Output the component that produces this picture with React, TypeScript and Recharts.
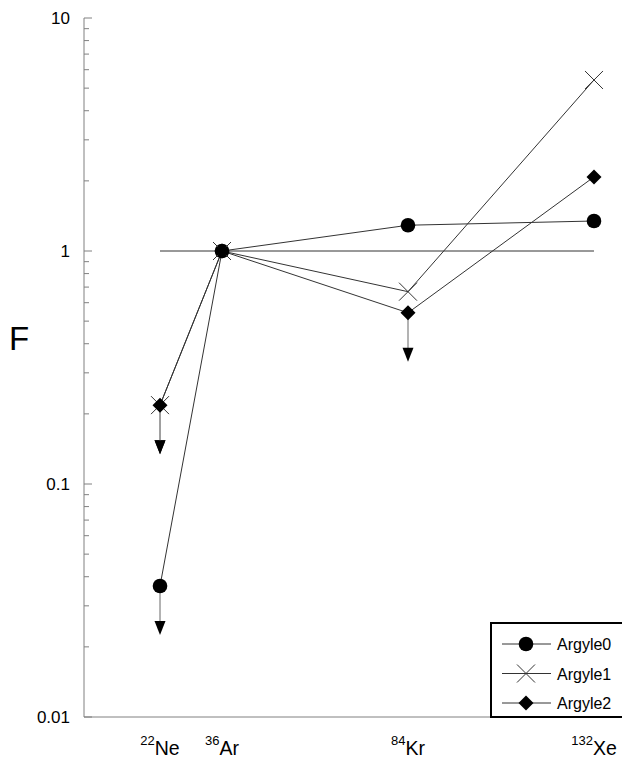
import { Legend, Line, LineChart, ReferenceLine, XAxis, YAxis } from "recharts";

// isotopes along the x axis (positions keep the original uneven spacing)
const massNumbers = ["22", "36", "84", "132"];
const elements = ["Ne", "Ar", "Kr", "Xe"];
const positions = [0, 1, 4, 7];

const argyle0 = [0.0365, 1, 1.29, 1.345];
const argyle1 = [0.218, 1, 0.669, 5.42];
const argyle2 = [0.218, 1, 0.543, 2.08];

// upper limits (drawn with a downward arrow)
const argyle0Limit = [true, false, false, false];
const argyle1Limit = [true, false, false, false];
const argyle2Limit = [true, false, true, false];

const seriesNames = ["Argyle0", "Argyle1", "Argyle2"];

const decadeTicks = [0.01, 0.1, 1, 10];
const decadeLabels = ["0.01", "0.1", "1", "10"];
const minorSteps = [2, 3, 4, 5, 6, 7, 8, 9];

const axisColor = "#808080";
const lineColor = "#333333";
const font = "'Liberation Sans', Arial, sans-serif";

const data = positions.map((x, i) => ({
  x,
  a0: argyle0[i],
  a1: argyle1[i],
  a2: argyle2[i],
  l0: argyle0Limit[i],
  l1: argyle1Limit[i],
  l2: argyle2Limit[i]
}));

const yTicks = [
  ...decadeTicks,
  ...decadeTicks.slice(0, -1).flatMap((d) => minorSteps.map((m) => Number((d * m).toPrecision(3))))
].sort((a, b) => a - b);

type Shape = "circle" | "cross" | "diamond";

function Marker({ cx, cy, shape }: { cx: number; cy: number; shape: Shape }) {
  if (shape === "circle") return <circle cx={cx} cy={cy} r={7.3} fill="#000" />;
  if (shape === "cross")
    return (
      <g stroke={lineColor} strokeWidth={1}>
        <line x1={cx - 9} y1={cy - 9} x2={cx + 9} y2={cy + 9} />
        <line x1={cx - 9} y1={cy + 9} x2={cx + 9} y2={cy - 9} />
      </g>
    );
  return <polygon points={`${cx},${cy - 7.5} ${cx + 7.5},${cy} ${cx},${cy + 7.5} ${cx - 7.5},${cy}`} fill="#000" />;
}

function makeDot(shape: Shape, limitKey: string) {
  return (props: any) => {
    const { cx, cy, payload, index } = props;
    if (cx == null || cy == null) return <g key={`d-${index}`} />;
    const limit = payload && payload[limitKey];
    return (
      <g key={`d-${shape}-${index}`}>
        {limit && (
          <g>
            <line x1={cx} y1={cy} x2={cx} y2={cy + 36} stroke="#9a9a9a" strokeWidth={1.5} />
            <polygon points={`${cx - 5.5},${cy + 35} ${cx + 5.5},${cy + 35} ${cx},${cy + 49}`} fill="#000" />
          </g>
        )}
        <Marker cx={cx} cy={cy} shape={shape} />
      </g>
    );
  };
}

function LeftTick(props: any) {
  const { x, y, payload } = props;
  const i = decadeTicks.indexOf(payload.value);
  const major = i >= 0;
  return (
    <g>
      <line x1={x} x2={x + (major ? 8 : 5)} y1={y} y2={y} stroke={axisColor} />
      {major && (
        <text x={x - 14} y={y} dy={6} textAnchor="end" fontSize={17} fontFamily={font} fill="#000">
          {decadeLabels[i]}
        </text>
      )}
    </g>
  );
}

function RightTick(props: any) {
  const { x, y, payload } = props;
  const major = decadeTicks.indexOf(payload.value) >= 0;
  return <line x1={x - (major ? 8 : 5)} x2={x} y1={y} y2={y} stroke={axisColor} />;
}

function IsotopeTick(props: any) {
  const { x, y, payload } = props;
  const i = positions.indexOf(payload.value);
  return (
    <text x={x} y={y + 38} textAnchor="middle" fontSize={19.5} fontFamily={font} fill="#000">
      <tspan fontSize={13} dy={-10}>
        {massNumbers[i]}
      </tspan>
      <tspan dy={10}>{elements[i]}</tspan>
    </text>
  );
}

function FLabel(props: any) {
  const vb = props.viewBox || { x: 0, y: 0, width: 84, height: 0 };
  return (
    <text x={vb.x + 19} y={vb.y + vb.height / 2 - 18} textAnchor="middle" fontSize={33} fontFamily={font} fill="#000">
      F
    </text>
  );
}

const legendShapes: Shape[] = ["circle", "cross", "diamond"];

function LegendBox() {
  return (
    <div style={{ border: "2px solid #000", background: "#fff", width: 140, height: 92, boxSizing: "content-box" }}>
      <svg width={140} height={92}>
        {seriesNames.map((name, i) => {
          const y = 20 + i * 29.5;
          return (
            <g key={name}>
              <line x1={10} x2={59} y1={y} y2={y} stroke={lineColor} />
              <Marker cx={34} cy={y} shape={legendShapes[i]} />
              <text x={65} y={y + 6} fontSize={16} fontFamily={font} fill="#000">
                {name}
              </text>
            </g>
          );
        })}
      </svg>
    </div>
  );
}

export default function App() {
  return (
    <div style={{ width: 622, height: 760, overflow: "hidden", background: "#fff", position: "relative" }}>
      <style>{`body{margin:0}`}</style>
      <LineChart width={624} height={760} data={data} margin={{ top: 18, right: 0, bottom: 0, left: 0 }}>
        <XAxis
          dataKey="x"
          type="number"
          domain={[-1.226, 7.484]}
          allowDataOverflow
          ticks={positions}
          interval={0}
          height={43}
          axisLine={{ stroke: axisColor }}
          tickLine={false}
          tickSize={0}
          tickMargin={0}
          tick={<IsotopeTick />}
        />
        <XAxis
          xAxisId="top"
          orientation="top"
          dataKey="x"
          type="number"
          domain={[-1.226, 7.484]}
          height={0}
          axisLine={{ stroke: axisColor }}
          tick={false}
          tickLine={false}
        />
        <YAxis
          yAxisId="left"
          scale="log"
          type="number"
          domain={[0.01, 10]}
          allowDataOverflow
          ticks={yTicks}
          interval={0}
          width={84}
          axisLine={{ stroke: axisColor }}
          tickLine={false}
          tickSize={0}
          tickMargin={0}
          tick={<LeftTick />}
          label={<FLabel />}
        />
        <YAxis
          yAxisId="right"
          orientation="right"
          scale="log"
          type="number"
          domain={[0.01, 10]}
          allowDataOverflow
          ticks={yTicks}
          interval={0}
          width={0}
          axisLine={false}
          tickLine={false}
          tickSize={0}
          tickMargin={0}
          tick={<RightTick />}
        />
        <ReferenceLine
          yAxisId="left"
          segment={[
            { x: positions[0], y: 1 },
            { x: positions[positions.length - 1], y: 1 }
          ]}
          stroke={lineColor}
          strokeWidth={1}
        />
        <Line
          yAxisId="left"
          dataKey="a0"
          name={seriesNames[0]}
          stroke={lineColor}
          strokeWidth={1}
          dot={makeDot("circle", "l0")}
          isAnimationActive={false}
        />
        <Line
          yAxisId="left"
          dataKey="a1"
          name={seriesNames[1]}
          stroke={lineColor}
          strokeWidth={1}
          dot={makeDot("cross", "l1")}
          isAnimationActive={false}
        />
        <Line
          yAxisId="left"
          dataKey="a2"
          name={seriesNames[2]}
          stroke={lineColor}
          strokeWidth={1}
          dot={makeDot("diamond", "l2")}
          isAnimationActive={false}
        />
        <Legend
          layout="horizontal"
          verticalAlign="middle"
          align="center"
          content={() => <LegendBox />}
          wrapperStyle={{ left: 490, top: 622, width: 144, height: 96 }}
        />
      </LineChart>
    </div>
  );
}
